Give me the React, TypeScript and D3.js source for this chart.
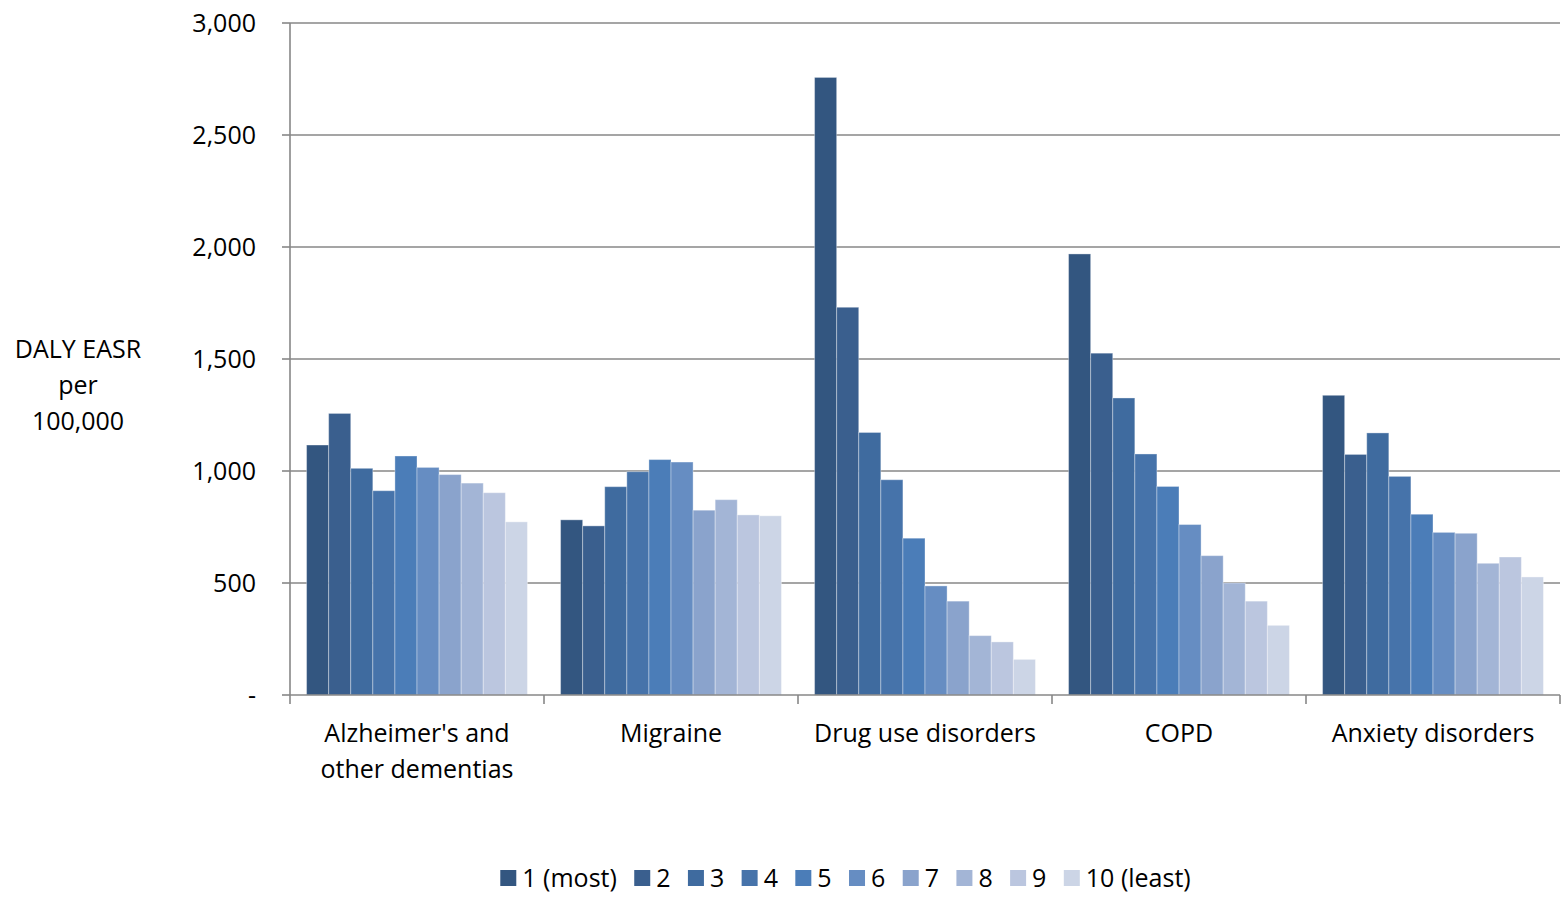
import React, { useEffect, useRef } from "react";
import * as d3 from "d3";

const categories = ["Alzheimer's and\nother dementias", "Migraine", "Drug use disorders", "COPD", "Anxiety disorders"];
const seriesNames = ["1 (most)", "2", "3", "4", "5", "6", "7", "8", "9", "10 (least)"];
const alzheimers = [1116, 1257, 1012, 912, 1067, 1016, 984, 946, 903, 773];
const migraine = [782, 755, 930, 997, 1051, 1040, 825, 872, 804, 800];
const drugUse = [2757, 1731, 1172, 961, 700, 487, 419, 265, 237, 159];
const copd = [1969, 1526, 1326, 1076, 931, 761, 622, 500, 419, 311];
const anxiety = [1338, 1074, 1170, 976, 807, 726, 722, 588, 616, 527];
const seriesColors = ["#335680", "#3a5f8e", "#3f6b9f", "#4673aa", "#4b7db8", "#668dc2", "#8aa3cc", "#a3b5d6", "#bbc6df", "#ccd5e6"];
const yTicks = [0, 500, 1000, 1500, 2000, 2500, 3000];
const yTitle = ["DALY EASR", "per", "100,000"];

const W = 1562;
const H = 902;
const FONT = "'Open Sans', sans-serif";
const FS = 25;

export default function App() {
  const ref = useRef<SVGSVGElement | null>(null);

  useEffect(() => {
    document.body.style.margin = "0";
    const svg = d3.select(ref.current!);
    svg.selectAll("*").remove();

    const values = [alzheimers, migraine, drugUse, copd, anxiety];
    const left = 290, right = 1560, top = 23, bottom = 695;

    const x0 = d3.scaleBand<number>().domain(d3.range(categories.length)).range([left, right]).padding(0);
    const x1 = d3.scaleBand<number>().domain(d3.range(seriesNames.length)).range([0, x0.bandwidth()]).paddingInner(0).paddingOuter(0.75);
    const y = d3.scaleLinear().domain([0, 3000]).range([bottom, top]);

    // gridlines
    svg.append("g").selectAll("line").data(yTicks.filter((t) => t > 0)).join("line")
      .attr("x1", left).attr("x2", right)
      .attr("y1", (d) => y(d)).attr("y2", (d) => y(d))
      .attr("stroke", "#878787").attr("stroke-width", 1.6);

    // bars
    const g = svg.append("g");
    values.forEach((vals, ci) => {
      g.append("g").selectAll("rect").data(vals).join("rect")
        .attr("x", (_d, i) => x0(ci)! + x1(i)!)
        .attr("width", x1.bandwidth())
        .attr("y", (d) => y(d))
        .attr("height", (d) => y(0) - y(d))
        .attr("fill", (_d, i) => seriesColors[i])
        .attr("stroke", "rgba(255,255,255,0.35)")
        .attr("stroke-width", 1);
    });

    // y axis
    svg.append("line").attr("x1", left).attr("x2", left).attr("y1", top).attr("y2", bottom)
      .attr("stroke", "#878787").attr("stroke-width", 1.6);
    svg.append("g").selectAll("line").data(yTicks).join("line")
      .attr("x1", left - 8).attr("x2", left)
      .attr("y1", (d) => y(d)).attr("y2", (d) => y(d))
      .attr("stroke", "#878787").attr("stroke-width", 1.6);
    const fmt = d3.format(",");
    svg.append("g").selectAll("text").data(yTicks).join("text")
      .attr("x", 256).attr("y", (d) => y(d))
      .attr("dy", "0.35em")
      .attr("text-anchor", "end")
      .attr("font-family", FONT).attr("font-size", FS).attr("fill", "#000")
      .text((d) => (d === 0 ? "-" : fmt(d)));

    // x axis
    svg.append("line").attr("x1", left).attr("x2", right).attr("y1", bottom).attr("y2", bottom)
      .attr("stroke", "#878787").attr("stroke-width", 1.6);
    const bounds = d3.range(categories.length + 1).map((i) => (i < categories.length ? x0(i)! : right));
    svg.append("g").selectAll("line").data(bounds).join("line")
      .attr("x1", (d) => d).attr("x2", (d) => d)
      .attr("y1", bottom).attr("y2", bottom + 9)
      .attr("stroke", "#878787").attr("stroke-width", 1.6);
    categories.forEach((c, ci) => {
      const lines = c.split("\n");
      const t = svg.append("text")
        .attr("text-anchor", "middle")
        .attr("font-family", FONT).attr("font-size", FS).attr("fill", "#000");
      lines.forEach((ln, li) => {
        t.append("tspan").attr("x", x0(ci)! + x0.bandwidth() / 2).attr("y", 733 + li * 36).attr("dy", "0.35em").text(ln);
      });
    });

    // y title
    yTitle.forEach((ln, i) => {
      svg.append("text").attr("x", 78).attr("y", 349 + i * 36).attr("dy", "0.35em")
        .attr("text-anchor", "middle")
        .attr("font-family", FONT).attr("font-size", FS).attr("fill", "#000")
        .text(ln);
    });

    // legend
    const lg = svg.append("g");
    const sq = 16, gapText = 6, gapItem = 17.4;
    const items = seriesNames.map((n, i) => {
      const it = lg.append("g");
      it.append("rect").attr("width", sq).attr("height", sq).attr("y", -sq / 2).attr("fill", seriesColors[i]);
      const tx = it.append("text").attr("x", sq + gapText).attr("dy", "0.35em")
        .attr("font-family", FONT).attr("font-size", FS).attr("fill", "#000").text(n);
      const w = (tx.node() as SVGTextElement).getComputedTextLength();
      return { it, w: sq + gapText + w };
    });
    const total = d3.sum(items, (d) => d.w) + gapItem * (items.length - 1);
    let cx = 845.5 - total / 2;
    items.forEach((d) => {
      d.it.attr("transform", `translate(${cx},878)`);
      cx += d.w + gapItem;
    });
  }, []);

  return (
    <svg ref={ref} width={W} height={H} style={{ display: "block", position: "absolute", left: 0, top: 0, background: "#fff" }} />
  );
}
